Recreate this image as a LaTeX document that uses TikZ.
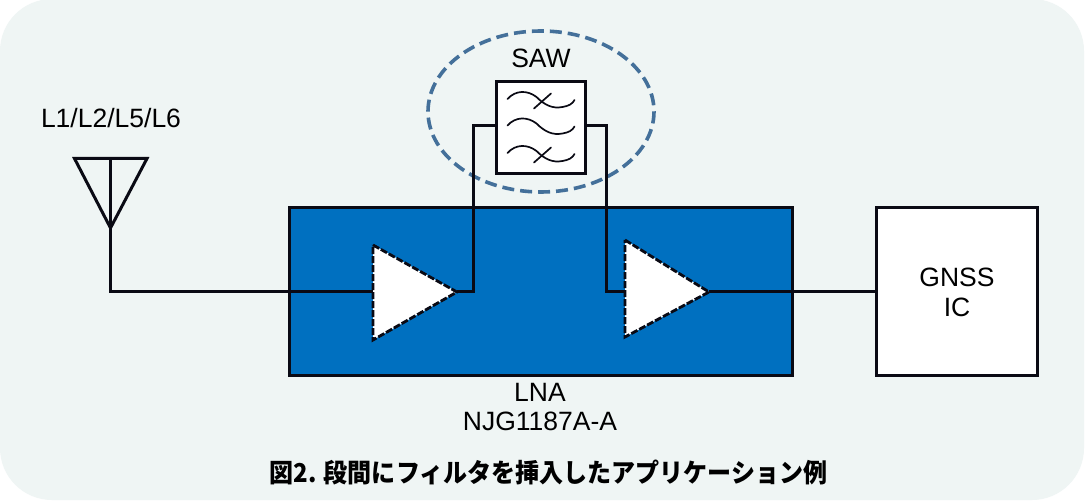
\documentclass[tikz,border=0pt]{standalone}
\usepackage{fontspec}
\setmainfont{Liberation Sans}
\newfontfamily\cjk{Noto Sans CJK JP}
\definecolor{bgpanel}{HTML}{EFF5F4}
\definecolor{lnablue}{HTML}{0070C0}
\definecolor{ringblue}{HTML}{44709A}
\definecolor{inkline}{HTML}{0A0A14}
\tikzset{
  wire/.style={draw=inkline,line width=3pt,line join=miter},
  block/.style={draw=inkline,line width=3pt,fill=white,rectangle,inner sep=0pt,outer sep=0pt},
  amptri/.style={draw=inkline,fill=white,line width=2.8pt,dash pattern=on 7pt off 2pt,line join=miter},
  filtline/.style={draw=inkline,line width=1.7pt,line cap=round},
  lbl/.style={font=\fontsize{26.5}{31}\selectfont,text=black,inner sep=0pt,align=center},
}
\newcommand{\filtcurve}[2]{%
  \draw[filtline,shift={(#1,#2)}] (0,0) .. controls (8,-9) and (20,-9) .. (29,-2)
     .. controls (37,6) and (45,10) .. (55,8) .. controls (61,7) and (65,5) .. (67,1);}
\begin{document}
\begin{tikzpicture}[x=1pt,y=-1pt]
\useasboundingbox (0,0) rectangle (1086,502);
\fill[white] (0,0) rectangle (1086,502);
\fill[bgpanel,rounded corners=52pt] (0,-1) rectangle (1084,500);

% LNA and GNSS blocks
\node[block,fill=lnablue,minimum width=503pt,minimum height=167pt] (lna) at (540.5,291.5) {};
\node[block,minimum width=161pt,minimum height=167pt] (gnss) at (956.5,291.5) {};
\node[lbl] (gnsslabel) at (957,292) {GNSS\\[-1pt]IC};

% SAW ring
\draw[ringblue,line width=3.6pt,dash pattern=on 12pt off 6pt] (541,111.5) ellipse [x radius=113,y radius=80.5];

% SAW filter
\node[block,minimum width=89pt,minimum height=92pt] (saw) at (540.5,128) {};
\node[lbl] (sawlabel) at (541,58.5) {SAW};
\filtcurve{507.5}{99}
\filtcurve{507.5}{125.5}
\filtcurve{507.5}{153}
\draw[filtline] (534,108.5) -- (551,93.5);
\draw[filtline] (534,162.5) -- (551,147.5);

% antenna
\coordinate (antL) at (74.5,158.5);
\coordinate (antR) at (147,158.5);
\coordinate (antT) at (110.5,158.5);
\coordinate (antB) at (110.5,228);
\draw[wire,line join=miter] (antL) -- (antR) -- (antB) -- cycle;
\draw[wire] (antT) -- (antB);
\node[lbl] (band) at (111,118) {L1/L2/L5/L6};

% amplifier points
\coordinate (a1top) at (373,245);
\coordinate (a1bot) at (373,340);
\coordinate (a1out) at (457,292);
\coordinate (a1in) at (373,292);
\coordinate (a2top) at (625,240);
\coordinate (a2bot) at (625,337);
\coordinate (a2out) at (709,292);
\coordinate (a2in) at (625,292);

% connectors
\draw[wire] (antB) |- (a1in);
\draw[wire] (a1out) -| (473,126) -- (saw.west |- 473,126);
\draw[wire] (saw.east |- 606,126) -| (606,292) -- (a2in);
\draw[wire] (a2out) -- (gnss.west |- a2out);

% amplifiers
\draw[amptri] (a1top) -- (a1out) -- (a1bot) -- cycle;
\draw[amptri] (a2top) -- (a2out) -- (a2bot) -- cycle;

% labels
\node[lbl] (lnalabel) at (540,407) {LNA\\[-2pt]NJG1187A-A};
\node[font=\fontsize{26}{30}\selectfont\cjk\bfseries,text=black,inner sep=0pt] (caption) at (548.5,473) {\scalebox{0.924}[1]{図2. 段間にフィルタを挿入したアプリケーション例}};
\end{tikzpicture}
\end{document}
